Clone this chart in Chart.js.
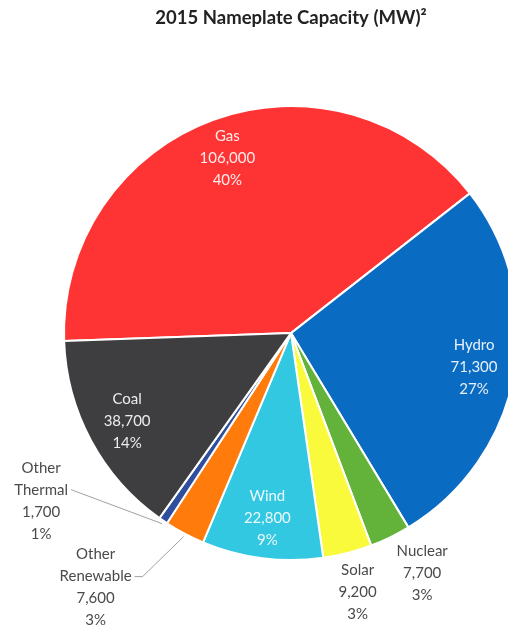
<!DOCTYPE html>
<html>
<head>
<meta charset="utf-8">
<script src="https://cdn.jsdelivr.net/npm/chart.js@4.4.1/dist/chart.umd.min.js"></script>
<style>
  html, body { margin: 0; padding: 0; background: #ffffff; overflow: hidden; }
  #wrap { width: 508px; height: 626px; position: relative; }
</style>
</head>
<body>
<div id="wrap"><canvas id="c"></canvas></div>
<script>
// ---- data ----
const chartTitle = '2015 Nameplate Capacity (MW)\u00B2';
const categories = ['Gas', 'Hydro', 'Nuclear', 'Solar', 'Wind', 'Other Renewable', 'Other Thermal', 'Coal'];
const capacityMW = [106000, 71300, 7700, 9200, 22800, 7600, 1700, 38700];
const percentLabels = ['40%', '27%', '3%', '3%', '9%', '3%', '1%', '14%'];

// ---- styling ----
const sliceColors = ['#FE3333', '#0A6BC2', '#63B33A', '#FAFA3C', '#33C8E2', '#FF7C0C', '#2F4E9E', '#3E3E41'];
const insideLabel = { 'Gas': true, 'Hydro': true, 'Wind': true, 'Coal': true };
// offsets of outside label blocks relative to the slice's outer edge point (px)
const outsidePlacement = {
  'Nuclear':         { dx: 32,   dy: 36, leader: false },
  'Solar':           { dx: 10,   dy: 39, leader: false },
  'Other Renewable': { dx: -89,  dy: 54, leader: true, lineIdx: 1 },
  'Other Thermal':   { dx: -122, dy: -20, leader: true, lineIdx: 1 }
};
const FONT = '15px Lato, "Open Sans", sans-serif';
const LINE_H = 22;

function fmt(n) { return n.toLocaleString('en-US'); }
function labelLines(i) {
  const name = categories[i];
  const nameLines = name.startsWith('Other ') ? ['Other', name.slice(6)] : [name];
  return nameLines.concat([fmt(capacityMW[i]), percentLabels[i]]);
}

const labelPlugin = {
  id: 'sliceLabels',
  afterDatasetsDraw(chart) {
    const ctx = chart.ctx;
    const meta = chart.getDatasetMeta(0);
    ctx.save();
    ctx.font = FONT;
    ctx.textAlign = 'center';
    ctx.textBaseline = 'middle';
    meta.data.forEach((arc, i) => {
      const p = arc.getProps(['x', 'y', 'startAngle', 'endAngle', 'outerRadius'], true);
      const mid = (p.startAngle + p.endAngle) / 2;
      const lines = labelLines(i);
      const name = categories[i];
      let cx, cy, color;
      if (insideLabel[name]) {
        cx = p.x + Math.cos(mid) * p.outerRadius * 0.82;
        cy = p.y + Math.sin(mid) * p.outerRadius * 0.82;
        color = 'rgba(255,255,255,0.9)';
      } else {
        const ax = p.x + Math.cos(mid) * p.outerRadius;
        const ay = p.y + Math.sin(mid) * p.outerRadius;
        const pl = outsidePlacement[name];
        cx = ax + pl.dx;
        cy = ay + pl.dy;
        color = '#4a4a4a';
        if (pl.leader) {
          const ly = cy - (lines.length - 1) * LINE_H / 2 + pl.lineIdx * LINE_H;
          const w = ctx.measureText(lines[pl.lineIdx]).width;
          const lx = cx + w / 2 + 3;
          ctx.strokeStyle = '#a0a0a0';
          ctx.lineWidth = 1;
          ctx.beginPath();
          ctx.moveTo(lx, ly);
          if (name === 'Other Renewable') {
            ctx.lineTo(lx + 8, ly);
          }
          ctx.lineTo(ax - 1, ay + 3);
          ctx.stroke();
        }
      }
      ctx.fillStyle = color;
      const top = cy - (lines.length - 1) * LINE_H / 2;
      lines.forEach((t, k) => ctx.fillText(t, cx, top + k * LINE_H));
    });
    ctx.restore();
  }
};

new Chart(document.getElementById('c'), {
  type: 'pie',
  data: {
    labels: categories,
    datasets: [{
      data: capacityMW,
      backgroundColor: sliceColors,
      borderColor: '#ffffff',
      borderWidth: 2,
      radius: 227
    }]
  },
  options: {
    responsive: true,
    maintainAspectRatio: false,
    animation: false,
    rotation: -92,
    layout: { padding: { left: 74, right: 0, top: 0, bottom: 0 } },
    plugins: {
      legend: { display: false },
      tooltip: { enabled: false },
      title: {
        display: true,
        text: chartTitle,
        color: '#222222',
        font: { family: 'Lato, "Open Sans", sans-serif', size: 18.5, weight: 'bold', lineHeight: 1.2 },
        padding: { top: 7, bottom: 11 }
      }
    }
  },
  plugins: [labelPlugin]
});
</script>
</body>
</html>
